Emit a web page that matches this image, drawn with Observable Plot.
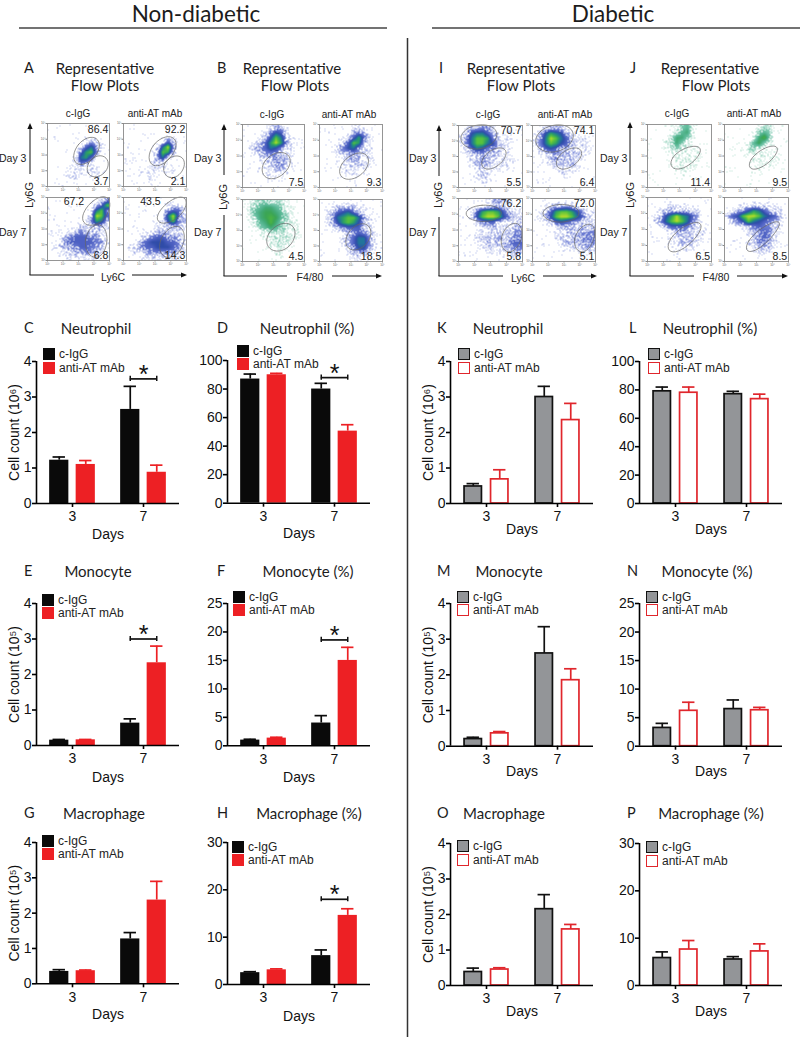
<!DOCTYPE html>
<html><head><meta charset="utf-8">
<script src="https://cdn.jsdelivr.net/npm/d3@7"></script>
<script src="https://cdn.jsdelivr.net/npm/@observablehq/plot@0.6"></script>
<style>
html,body{margin:0;padding:0;background:#fff}
#root{position:relative;width:800px;height:1037px;overflow:hidden;font-family:"Liberation Sans",sans-serif;color:#222}
#root>svg{position:absolute;overflow:visible;background:transparent}
.t{position:absolute;white-space:nowrap;line-height:1;transform:translate(-50%,-50%)}
.m{font-family:"Lato",sans-serif;color:#1c1c1c}
.l{position:absolute;white-space:nowrap;line-height:1;transform:translateY(-50%)}
.v{writing-mode:vertical-rl;transform:translate(-50%,-50%) rotate(180deg)}
.sw{position:absolute;width:12px;height:12px;box-sizing:border-box}
</style></head><body><div id="root"></div>
<script>
// ---------- bar chart values: [day 3 c-IgG, day 3 anti-AT, day 7 c-IgG, day 7 anti-AT]
const days = [3, 7];
const seriesNames = ["c-IgG", "anti-AT mAb"];
const neutrophilCountMean = [1.22, 1.10, 2.65, 0.88], neutrophilCountTop = [1.31, 1.21, 3.30, 1.08];
const neutrophilPctMean = [87, 90, 80, 50.5], neutrophilPctTop = [90.5, 91, 84, 55];
const monocyteCountMean = [0.15, 0.16, 0.63, 2.33], monocyteCountTop = [0.17, 0.17, 0.75, 2.80];
const monocytePctMean = [1.0, 1.35, 4.0, 15], monocytePctTop = [1.15, 1.5, 5.3, 17.3];
const macrophageCountMean = [0.35, 0.37, 1.27, 2.37], macrophageCountTop = [0.40, 0.39, 1.45, 2.90];
const macrophagePctMean = [2.5, 3.1, 6.1, 14.6], macrophagePctTop = [2.7, 3.3, 7.3, 16];
const dNeutrophilCountMean = [0.48, 0.68, 3.0, 2.35], dNeutrophilCountTop = [0.56, 0.95, 3.30, 2.82];
const dNeutrophilPctMean = [79, 78, 77, 73.5], dNeutrophilPctTop = [82, 82, 79, 77];
const dMonocyteCountMean = [0.20, 0.36, 2.60, 1.85], dMonocyteCountTop = [0.25, 0.41, 3.35, 2.17];
const dMonocytePctMean = [3.2, 6.2, 6.5, 6.3], dMonocytePctTop = [4.0, 7.7, 8.1, 6.8];
const dMacrophageCountMean = [0.38, 0.45, 2.15, 1.58], dMacrophageCountTop = [0.49, 0.50, 2.56, 1.72];
const dMacrophagePctMean = [5.8, 7.6, 5.5, 7.2], dMacrophagePctTop = [7.1, 9.5, 6.1, 8.8];

// ---------- flow plots: density on a 12x12 grid, top row first, 0 (none) to 9 (peak)
const densA = [
 ["000000000000","000000000000","000000000000","000000012100","000000146310","000000478300","000001674100","000001431000","000011111100","000111101110","000011001100","000000000000"],
 ["000000000000","000000000000","000000001000","000000014200","000000169300","000000387200","000000361000","000001210000","000011111100","000111101100","000001000000","000000000000"],
 ["000000000013","000000000248","000000001683","000000002984","000000013762","000000212321","000012322210","000234443320","001344444331","012233443320","001122233210","000111111100"],
 ["000000000000","000000001210","000000003442","000000016941","000000015832","000000112221","000011222110","000123443321","001345554431","012344555431","001123333321","000111111110"]];
const densB = [
 ["000001220000","000013541000","000125862100","001247973100","012346531100","001233321100","000122322100","000112332100","000111221100","000011111000","000001010000","000000000000"],
 ["000000110000","000000232000","000001474100","000124872100","001235631100","000122321100","000012321100","000011221100","000011111000","000001110000","000000000000","000000000000"],
 ["012332221000","023455431100","024566542100","013567643100","012457532110","001345432110","000112222110","000011222110","000001222100","000001111000","000000110000","000000000000"],
 ["000000000000","001222211000","012456421000","013678863100","012578752100","001234442100","000012343210","000012466310","000012466310","000001355210","000001222100","000000110000"]];
const densI = [
 ["012233100000","025664210100","136887321100","136886521100","024653321100","012232221100","001232211110","001232111100","000121111000","000121000000","000111000000","000010000000"],
 ["001222100000","025765210000","136986421100","136875421110","024542221110","011232222110","001232221100","000122221000","000011111000","000001100000","000000000000","000000000000"],
 ["000001232100","000001221100","001478874211","001589985321","000134421112","000011211122","000111121233","000122222233","000112222344","000011112233","000001111122","000000000000"],
 ["000000000000","001122321000","012478875311","012589986421","001245432211","000012222222","000011222333","000012222333","000001222333","000001111222","000000000110","000000000000"]];
const densJ = [
 ["000001341000","000002451000","000025531000","000135310000","000123210100","000011111100","000001111100","000011111100","000001111000","000000100000","000000000000","000000000000"],
 ["000000122000","000001343000","000001573000","000014631000","000123210100","000011111000","000001111100","000001111000","000000100000","000000000000","000000000000","000000000000"],
 ["000000000000","000111111000","001222221100","012579764200","023689863100","001244432100","000012322110","000011222110","000011222100","000001111000","000000000000","000000000000"],
 ["000000000000","000111111100","012357642110","245899865420","023586543210","000123433210","000012343110","000012343100","000012332100","000001222000","000000110000","000000000000"]];

// gates: four points on each ellipse, in percent of each axis
const gatesA = [
 [[[78.6,75.9],[49.7,66.3],[47,36.9],[76.5,48.1]], [[89.3,48.1],[66.3,36.9],[72.2,16],[95.7,27.3]]],
 [[[80.2,75.9],[49.7,67.9],[44.4,35.8],[73.3,44.9]], [[88.2,48],[65.2,35.8],[73.3,14.4],[94.7,27.8]]],
 [[[98,97.4],[69.5,91],[58.8,60.5],[89.3,64.7]], [[84,56.3],[61.5,34.2],[74.9,5.3],[95.2,26.3]]],
 [[[97.9,97.4],[69.5,91],[55,63],[85.6,68]], [[85.6,54],[58.8,31.6],[69.5,5],[94.7,26.3]]]];
const gatesB = [
 [[[66.5,55],[35.1,40.1],[42.2,14.4],[73.5,30.5]]],
 [[[68,54.5],[35.6,37.4],[42.3,13.4],[73.7,29.4]]],
 [[[74.6,60.8],[42.2,44.6],[50.3,17.7],[81,32.3]]],
 [[[70.6,60.8],[43.8,41.9],[52.6,18.8],[79.4,36.6]]]];
const gatesI = [
 [[[59.5,89],[26.3,100],[4.2,75.7],[36.8,63.2]], [[63.2,63.8],[37.9,46],[47.4,29.7],[72.6,48.6]]],
 [[[64.7,86.5],[31.6,100],[5.3,73],[38.4,58]], [[66,63.8],[39.5,46],[50,29.7],[76.3,48.6]]],
 [[[66.8,78.6],[36.8,89.3],[12.1,74.9],[42.1,63.7]], [[86.3,60.4],[66.8,35.8],[81,15.5],[98.9,41.2]]],
 [[[73.7,78.6],[42.1,90.4],[16.8,74.9],[47.4,62.6]], [[87.9,59],[67,35.8],[80,15.4],[98,40]]]];
const gatesJ = [
 [[[72.5,65.4],[39.9,47.9],[47.7,29.3],[78.8,49.5]]],
 [[[72.5,65.4],[42,45],[49.2,29.3],[79.3,51.5]]],
 [[[72.5,60.5],[36.3,35.3],[44,15.3],[79.3,43.2]]],
 [[[74.6,60.5],[38.3,32.6],[46.1,16.8],[81.3,48.4]]]];

const pctA = [["86.4","3.7"],["92.2","2.1"],["67.2","6.8"],["43.5","14.3"]];
const pctB = [[null,"7.5"],[null,"9.3"],[null,"4.5"],[null,"18.5"]];
const pctI = [["70.7","5.5"],["74.1","6.4"],["76.2","5.8"],["72.0","5.1"]];
const pctJ = [[null,"11.4"],[null,"9.5"],[null,"6.5"],[null,"8.5"]];
const flowTicks = ["10¹","10²","10³","10⁴","10⁵"];

const paletteBlue = ["#ffffff","#a9b3e8","#8b98de","#6b7bd2","#4d60c2","#2f4ca8","#21749a","#2c9e66","#58c23e","#b8dc2a"];
const paletteTeal = ["#ffffff","#b3dfd0","#97d4c0","#7cc9af","#5cb998","#43aa78","#3ba555","#4bb344","#6cc53a","#b8dc2a"];

const root = document.getElementById("root");
function place(svg, left, top){ svg.style.left = left+"px"; svg.style.top = top+"px"; root.appendChild(svg); }
function text(s, x, y, size, cls){ const d=document.createElement("div"); d.className=cls; d.textContent=s;
  d.style.left=x+"px"; d.style.top=y+"px"; d.style.fontSize=size+"px"; root.appendChild(d); return d; }

// ---------- frame rules and axis arrows of the flow plots
const SVGNS="http://www.w3.org/2000/svg";
const deco=document.createElementNS(SVGNS,"svg");
deco.setAttribute("width",800);deco.setAttribute("height",1037);deco.style.left="0";deco.style.top="0";
function seg(x1,y1,x2,y2,w,c){const l=document.createElementNS(SVGNS,"line");
  for(const [k,v] of Object.entries({x1,y1,x2,y2,stroke:c,"stroke-width":w})) l.setAttribute(k,v); deco.appendChild(l);}
function tri(pts){const p=document.createElementNS(SVGNS,"polygon");p.setAttribute("points",pts);p.setAttribute("fill","#111");deco.appendChild(p);}
seg(19,28,387,28,1.5,"#444"); seg(432,28,800,28,1.5,"#444"); seg(407.5,38,407.5,1037,1.5,"#333");
root.appendChild(deco);
text("Non-diabetic",196,13.6,22.5,"t m"); text("Diabetic",613,13.6,22.5,"t m");

function flowAxes(x,top,g1,g2,hEnd,aStart,aEnd,yB){
  seg(x,top+4,x,g1,1,"#111"); seg(x,g2,x,yB,1,"#111"); seg(x-.5,yB,hEnd,yB,1,"#111"); seg(aStart,yB,aEnd-4,yB,1,"#111");
  tri(`${x},${top} ${x-2.6},${top+6} ${x+2.6},${top+6}`); tri(`${aEnd},${yB} ${aEnd-6},${yB-2.6} ${aEnd-6},${yB+2.6}`);
}
flowAxes(30,123,174,215,94,132,187,275);
flowAxes(224,124,175,215,287,332,382,276);
flowAxes(439,125,176,217,503,543,597,276);
flowAxes(630,122,175,215,694,737,788,276);

// the 12x12 reading is drawn as a stipple: a pixel is inked with a share that follows the density,
// using a fixed dither screen, and coloured by the density once it is dense
function stipple(dens,w,h,seed){
  const g=dens.map(r=>[...r].map(Number));
  const at=(r,c)=>g[Math.max(0,Math.min(11,r))][Math.max(0,Math.min(11,c))];
  return (x,y)=>{
    const gx=x/100*12-.5, gy=(100-y)/100*12-.5, c0=Math.floor(gx), r0=Math.floor(gy), fx=gx-c0, fy=gy-r0;
    const d=Math.max(.08,(at(r0,c0)*(1-fx)+at(r0,c0+1)*fx)*(1-fy)+(at(r0+1,c0)*(1-fx)+at(r0+1,c0+1)*fx)*fy);
    if(d>=4) return d;
    const px=Math.floor(x/100*w)+seed, py=Math.floor(y/100*h)+seed;
    const s=Math.sin(px*12.9898+py*78.233)*43758.5453, screen=s-Math.floor(s);
    return screen<d/4 ? Math.max(1,d) : 0;
  };
}

function flowPanel(px0,px1,py0,py1,dens,gates,labels,teal,topEnd,topY,bottomY){
  const w=px1-px0,h=py1-py0,ml=7,mt=3,mr=3,mb=7;
  const gatePts=gates.flatMap((g,i)=>g.map(([x,y])=>({x,y,i})));
  const lab=[]; if(labels[0]) lab.push({s:labels[0],x:topEnd,y:topY}); lab.push({s:labels[1],x:98,y:bottomY});
  const tickVals=[0,25,50,75,100];
  const svg=Plot.plot({width:w+ml+mr,height:h+mt+mb,marginLeft:ml,marginRight:mr,marginTop:mt,marginBottom:mb,
    style:{font:"10px 'Liberation Sans'",background:"transparent",overflow:"visible"},
    x:{domain:[0,100],axis:null},y:{domain:[0,100],axis:null},
    color:{type:"linear",domain:d3.range(10),range:teal?paletteTeal:paletteBlue,clamp:true},
    marks:[
      Plot.raster({fill:stipple(dens,w,h,px0+py0),x1:0,x2:100,y1:0,y2:100,pixelSize:1,imageRendering:"auto"}),
      Plot.line(gatePts,{x:"x",y:"y",z:"i",curve:"cardinal-closed",tension:-0.656,stroke:"#666",strokeWidth:.7}),
      Plot.frame({stroke:"#8a8a8a",strokeWidth:.9}),
      Plot.axisX(tickVals,{tickFormat:(d,i)=>flowTicks[i],fontSize:3,tickSize:1.5,tickPadding:.5,label:null,stroke:"#888",fill:"#666"}),
      Plot.axisY(tickVals,{tickFormat:(d,i)=>flowTicks[i],fontSize:3,tickSize:1.5,tickPadding:.5,label:null,stroke:"#888",fill:"#666"}),
      Plot.text(lab,{x:"x",y:"y",text:"s",textAnchor:"end",fontSize:10.5,fill:"#222"})
    ]});
  place(svg,px0-ml,py0-mt);
}
function flowBlock(xs,ys,dens,gates,pct,opts){
  [[0,0],[1,0],[0,1],[1,1]].forEach(([c,r],i)=>{
    const o=opts(i);
    flowPanel(xs[c][0],xs[c][1],ys[r][0],ys[r][1],dens[i],gates[i],pct[i],o.teal,o.topEnd,o.topY,o.bottomY);
  });
}
flowBlock([[47,109],[123,186]],[[123,186],[197,260]],densA,gatesA,pctA,i=>({topEnd:i>=2?59:98,topY:i>=2?93:91,bottomY:7.5}));
flowBlock([[242,304],[319,382]],[[124,187],[199,261]],densB,gatesB,pctB,i=>({teal:i===2,bottomY:8}));
flowBlock([[458,522],[532,595]],[[125,187],[198,261]],densI,gatesI,pctI,i=>({topEnd:98,topY:92,bottomY:8}));
flowBlock([[647,711],[724,788]],[[124,187],[197,261]],densJ,gatesJ,pctJ,i=>({teal:i<2,bottomY:8}));

// flow plot text
[[24,105,105,78,155,114,-1],[217,292,295,272,349,115,194],[439,516,521,488,565,115,409],[630,710,716,677,754,114,600]].forEach(([lx,rx,fx,cx,ax,hy,dx])=>{
  text(rx===105?"A":rx===292?"B":rx===516?"I":"J",lx,68,14.5,"l m");
  text("Representative",rx,68,15,"t m"); text("Flow Plots",fx,85,15,"t m");
  text(seriesNames[0],cx,hy,10,"t"); text(seriesNames[1],ax,hy,10,"t");
  text("Day 3",dx,158,10.5,"l"); text("Day 7",dx,232,10.5,"l");
});
text("Ly6C",113,277,10.5,"t"); text("F4/80",310,277,10.5,"t"); text("Ly6C",523,278,10.5,"t"); text("F4/80",716,277,10.5,"t");
[[29,195],[223,197],[438,195],[630,195]].forEach(([x,y])=>{ const d=text("Ly6G",x,y,11,"t v"); d.style.background="#fff"; d.style.padding="0"; });

// ---------- bar panels
const PX_PER_DAY=71;
function barPanel(o){
  const ml=36,mr=12,mt=20,mb=46,W=143;
  const H=o.y0-o.yTop;
  const off=[-13.25/PX_PER_DAY,13.25/PX_PER_DAY], half=(o.open?8.7:9.6)/PX_PER_DAY, cap=6.2/PX_PER_DAY;
  const rows=[]; o.mean.forEach((m,i)=>rows.push({day:Math.floor(i/2),s:i%2,mean:m,top:o.top[i]}));
  const xc=d=>d.day+off[d.s];
  const colE=o.open?["#111","#e0262c"]:["#0a0a0a","#ed2024"];
  const fill=o.open?["#939598","#ffffff"]:["#0a0a0a","#ed2024"];
  const marks=[
    Plot.ruleX(rows,{x:xc,y1:"mean",y2:"top",stroke:d=>colE[d.s],strokeWidth:1.7}),
    Plot.ruleY(rows,{y:"top",x1:d=>xc(d)-cap,x2:d=>xc(d)+cap,stroke:d=>colE[d.s],strokeWidth:1.7}),
    Plot.rectY(rows,{x1:d=>xc(d)-half,x2:d=>xc(d)+half,y1:0,y2:"mean",fill:d=>fill[d.s],
      stroke:o.open?(d=>colE[d.s]):"none",strokeWidth:o.open?1.7:0}),
    Plot.ruleY([0],{stroke:"#000",strokeWidth:1.6}),
    Plot.ruleX([-36/PX_PER_DAY],{y1:0,y2:o.yDomain,stroke:"#000",strokeWidth:1.6}),
    Plot.axisY(o.yTicks,{tickFormat:d=>String(d),tickSize:4,tickPadding:1,strokeWidth:1.6,stroke:"#000",fill:"#111",
      label:o.yLabel||null,labelAnchor:"center",labelArrow:"none",labelOffset:o.labelOffset||27}),
    Plot.axisX([0,1],{tickFormat:i=>days[i],tickSize:4,tickPadding:4,strokeWidth:1.6,stroke:"#000",fill:"#111",
      label:"Days",labelAnchor:"center",labelArrow:"none",labelOffset:o.daysOffset})
  ];
  if(o.sig!=null){
    const sig=[{v:o.sig}];
    marks.push(
      Plot.ruleY(sig,{y:"v",x1:1+off[0],x2:1+off[1],stroke:"#111",strokeWidth:1.7}),
      Plot.ruleX([1+off[0],1+off[1]],{y1:o.sig-o.yDomain*.018,y2:o.sig+o.yDomain*.018,stroke:"#111",strokeWidth:1.5}),
      Plot.text(sig,{x:1,y:"v",text:()=>"*",fontSize:25,fill:"#111",dy:-4,fontFamily:"Liberation Sans"})
    );
  }
  const svg=Plot.plot({width:ml+W+mr,height:mt+H+mb,marginLeft:ml,marginRight:mr,marginTop:mt,marginBottom:mb,
    style:{font:"14px 'Liberation Sans'",background:"transparent",overflow:"visible"},
    x:{domain:[-36/PX_PER_DAY,107/PX_PER_DAY],axis:null},
    y:{domain:[0,o.yDomain],axis:null},
    marks});
  place(svg,o.x-ml,o.yTop-mt);
  // heading
  text(o.letter,o.lx,o.hy,14.5,"l m"); text(o.title,o.tx,o.hy,15,"t m");
  // legend
  [0,1].forEach(s=>{
    const b=document.createElement("div"); b.className="sw"; const y=s?o.leg[2]:o.leg[1];
    b.style.left=o.leg[0]+"px"; b.style.top=y+"px";
    b.style.background=fill[s]; if(o.open) b.style.border=`1.7px solid ${colE[s]}`;
    root.appendChild(b);
    text(seriesNames[s],o.leg[0]+16,y+6,12,"l");
  });
}
const COUNT6="Cell count (10⁶)",COUNT5="Cell count (10⁵)";
const T4=[0,1,2,3,4],T100=[0,20,40,60,80,100],T25=[0,5,10,15,20,25],T30=[0,10,20,30];
const P=(x,y0,yTop,d)=>barPanel({x,y0,yTop,...d});
P(35.5,502.7,360.7,{letter:"C",lx:24,hy:328,title:"Neutrophil",tx:96,mean:neutrophilCountMean,top:neutrophilCountTop,yDomain:4,yTicks:T4,yLabel:COUNT6,daysOffset:35,sig:3.51,leg:[43,348,362]});
P(227,502.7,360,{letter:"D",lx:217,hy:328,title:"Neutrophil (%)",tx:307,mean:neutrophilPctMean,top:neutrophilPctTop,yDomain:100,yTicks:T100,daysOffset:35,sig:88,leg:[237,345,358]});
P(35.5,745,603,{letter:"E",lx:24,hy:571,title:"Monocyte",tx:98,mean:monocyteCountMean,top:monocyteCountTop,yDomain:4,yTicks:T4,yLabel:COUNT5,daysOffset:36,sig:3.0,leg:[42,594,607]});
P(227,745.3,603,{letter:"F",lx:217,hy:571,title:"Monocyte (%)",tx:308,mean:monocytePctMean,top:monocytePctTop,yDomain:25,yTicks:T25,daysOffset:36,sig:18.6,leg:[233,591,604]});
P(35.5,983,841.7,{letter:"G",lx:24,hy:813,title:"Macrophage",tx:104,mean:macrophageCountMean,top:macrophageCountTop,yDomain:4,yTicks:T4,yLabel:COUNT5,daysOffset:35,leg:[42,835,848]});
P(227,984,842,{letter:"H",lx:217,hy:813,title:"Macrophage (%)",tx:309,mean:macrophagePctMean,top:macrophagePctTop,yDomain:30,yTicks:T30,daysOffset:36,sig:18,leg:[232,841,854]});
P(450,502.7,360.7,{open:true,letter:"K",lx:437,hy:328,title:"Neutrophil",tx:508,mean:dNeutrophilCountMean,top:dNeutrophilCountTop,yDomain:4,yTicks:T4,yLabel:COUNT6,daysOffset:30,leg:[458,348,362]});
P(639,502.7,360.7,{open:true,letter:"L",lx:629,hy:328,title:"Neutrophil (%)",tx:710,mean:dNeutrophilPctMean,top:dNeutrophilPctTop,yDomain:100,yTicks:T100,daysOffset:30,leg:[648,348,362]});
P(450,745.7,603,{open:true,letter:"M",lx:437,hy:571,title:"Monocyte",tx:509,mean:dMonocyteCountMean,top:dMonocyteCountTop,yDomain:4,yTicks:T4,yLabel:COUNT5,daysOffset:30,leg:[457,591,604]});
P(639,745.7,603,{open:true,letter:"N",lx:627,hy:571,title:"Monocyte (%)",tx:707,mean:dMonocytePctMean,top:dMonocytePctTop,yDomain:25,yTicks:T25,daysOffset:30,leg:[646,591,604]});
P(450,984.7,842.7,{open:true,letter:"O",lx:437,hy:813,title:"Macrophage",tx:504,mean:dMacrophageCountMean,top:dMacrophageCountTop,yDomain:4,yTicks:T4,yLabel:COUNT5,daysOffset:30,leg:[457,840,854]});
P(639,984.7,842.7,{open:true,letter:"P",lx:627,hy:813,title:"Macrophage (%)",tx:711,mean:dMacrophagePctMean,top:dMacrophagePctTop,yDomain:30,yTicks:T30,daysOffset:30,leg:[646,841,855]});
</script></body></html>
